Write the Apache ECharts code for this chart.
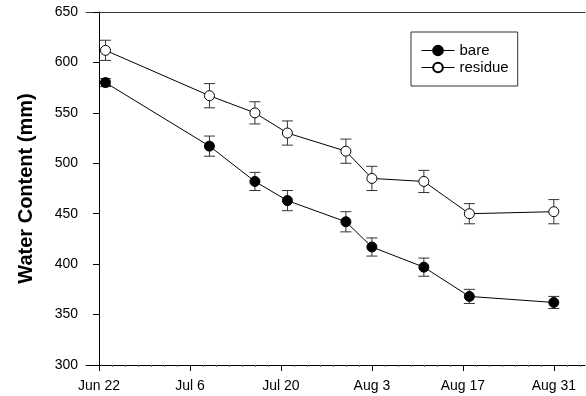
<!DOCTYPE html>
<html>
<head>
<meta charset="utf-8">
<script src="https://cdn.jsdelivr.net/npm/echarts@6/dist/echarts.min.js"></script>
<style>html,body{margin:0;padding:0;background:#fff}#chart{width:586px;height:396px}</style>
</head>
<body>
<div id="chart"></div>
<script>
var myChart = echarts.init(document.getElementById('chart'));

// sampling dates as days after Jun 22
var sampleDays = [1, 17, 24, 29, 38, 42, 50, 57, 70];
var bare = [580, 517, 482, 463, 442, 417, 397, 368, 362];
var bareErr = [4, 10, 9, 10, 10, 9, 9, 7, 6];
var residue = [612, 567, 550, 530, 512, 485, 482, 450, 452];
var residueErr = [10, 12, 11, 12, 12, 12, 11, 10, 12];
var tickDays = [0, 14, 28, 42, 56, 70];
var tickLabels = ['Jun 22', 'Jul 6', 'Jul 20', 'Aug 3', 'Aug 17', 'Aug 31'];

// small ticks every 2 days
var minorDays = [];
for (var d = 0; d <= 74; d += 2) {
  if (tickDays.indexOf(d) < 0) minorDays.push(d);
}

var xMin = -2, xMax = 74.8;

function points(vals) {
  return sampleDays.map(function (d, i) { return [d, vals[i]]; });
}
function bars(vals, errs) {
  return sampleDays.map(function (d, i) { return [d, vals[i] - errs[i], vals[i] + errs[i]]; });
}
function renderBar(params, api) {
  var lo = api.coord([api.value(0), api.value(1)]);
  var hi = api.coord([api.value(0), api.value(2)]);
  var w = 5.5;
  var st = { stroke: '#333', lineWidth: 1 };
  return {
    type: 'group',
    children: [
      { type: 'line', shape: { x1: lo[0], y1: lo[1], x2: hi[0], y2: hi[1] }, style: st },
      { type: 'line', shape: { x1: lo[0] - w, y1: lo[1], x2: lo[0] + w, y2: lo[1] }, style: st },
      { type: 'line', shape: { x1: hi[0] - w, y1: hi[1], x2: hi[0] + w, y2: hi[1] }, style: st }
    ]
  };
}

var option = {
  animation: false,
  textStyle: { fontFamily: 'Liberation Sans, Arial, sans-serif' },
  grid: { left: 86, top: 12, right: 1, bottom: 31 },
  legend: {
    data: ['bare', 'residue'],
    orient: 'vertical',
    left: 411,
    top: 32,
    borderColor: '#333',
    borderWidth: 1,
    padding: [11, 9, 11, 10],
    itemWidth: 33,
    itemHeight: 12,
    itemGap: 2,
    lineStyle: { width: 1 },
    textStyle: { fontSize: 15, color: '#000', lineHeight: 15 }
  },
  xAxis: [
    {
      type: 'value', min: xMin, max: xMax, position: 'bottom',
      splitLine: { show: false },
      axisLine: { lineStyle: { color: '#000', width: 1 } },
      axisTick: { customValues: tickDays, length: 6, lineStyle: { color: '#000' } },
      axisLabel: {
        customValues: tickDays, fontSize: 14, color: '#000', margin: 14,
        formatter: function (v) { return tickLabels[tickDays.indexOf(v)]; }
      }
    },
    {
      type: 'value', min: xMin, max: xMax, position: 'bottom',
      splitLine: { show: false },
      axisLine: { show: false },
      axisTick: { customValues: minorDays, length: 2, lineStyle: { color: '#666' } },
      axisLabel: { show: false }
    },
    {
      type: 'value', min: xMin, max: xMax, position: 'top',
      splitLine: { show: false },
      axisLine: { lineStyle: { color: '#333', width: 1 } },
      axisTick: { show: false },
      axisLabel: { show: false }
    }
  ],
  yAxis: {
    type: 'value', min: 300, max: 650, interval: 50,
    name: 'Water Content (mm)',
    nameLocation: 'middle',
    nameGap: 50,
    nameTextStyle: { fontSize: 20, fontWeight: 'bold', color: '#000' },
    splitLine: { show: false },
    axisLine: { show: true, lineStyle: { color: '#000', width: 1 } },
    axisTick: { show: true, length: 6, lineStyle: { color: '#000' } },
    axisLabel: { fontSize: 14, color: '#000', margin: 8 }
  },
  series: [
    {
      type: 'custom', xAxisIndex: 0, renderItem: renderBar,
      encode: { x: 0, y: [1, 2] }, data: bars(bare, bareErr), z: 1, silent: true
    },
    {
      type: 'custom', xAxisIndex: 0, renderItem: renderBar,
      encode: { x: 0, y: [1, 2] }, data: bars(residue, residueErr), z: 1, silent: true
    },
    {
      name: 'bare', type: 'line', xAxisIndex: 0, data: points(bare),
      symbol: 'circle', symbolSize: 10,
      lineStyle: { color: '#000', width: 1 },
      itemStyle: { color: '#000', borderColor: '#000', borderWidth: 1 },
      z: 3
    },
    {
      name: 'residue', type: 'line', xAxisIndex: 0, data: points(residue),
      symbol: 'circle', symbolSize: 10,
      lineStyle: { color: '#000', width: 1 },
      itemStyle: { color: '#fff', borderColor: '#000', borderWidth: 1 },
      z: 3
    }
  ]
};

myChart.setOption(option);
</script>
</body>
</html>
